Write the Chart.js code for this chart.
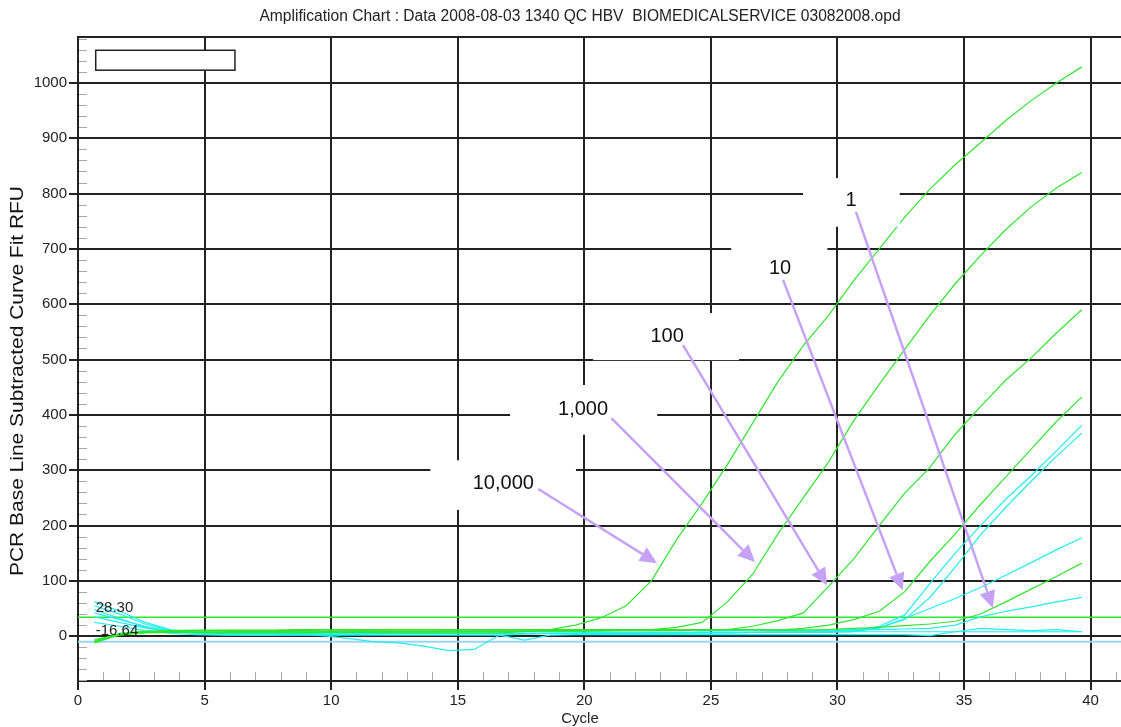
<!DOCTYPE html>
<html>
<head>
<meta charset="utf-8">
<script src="https://cdn.jsdelivr.net/npm/chart.js@4.4.1/dist/chart.umd.min.js"></script>
<style>
  html, body { margin: 0; padding: 0; background: #fff; }
  #wrap { width: 1121px; height: 727px; }
</style>
</head>
<body>
<div id="wrap"><canvas id="chart" width="1121" height="727"></canvas></div>
<script>
// cycle positions of the readings
const cycles = [0.65, 1.65, 2.65, 3.65, 4.65, 5.65, 6.65, 7.65, 8.65, 9.65,
  10.65, 11.65, 12.65, 13.65, 14.65, 15.65, 16.65, 17.65, 18.65, 19.65,
  20.65, 21.65, 22.65, 23.65, 24.65, 25.65, 26.65, 27.65, 28.65, 29.65,
  30.65, 31.65, 32.65, 33.65, 34.65, 35.65, 36.65, 37.65, 38.65, 39.65];

// standards (green)
const std10000 = [-8, 4, 7, 8, 7, 6, 6, 6, 6, 7, 7, 7, 6, 6, 6, 6, 6, 8, 12, 20,
  33, 55, 100, 175, 240, 310, 385, 460, 525, 580, 643, 700, 757, 808, 852, 892, 932, 968, 1000, 1029];
const std1000 = [-6, 3, 7, 8, 8, 8, 9, 9, 8, 8, 9, 9, 8, 8, 9, 9, 9, 9, 10, 10,
  10, 11, 12, 16, 25, 62, 112, 185, 250, 315, 390, 455, 518, 580, 637, 688, 735, 776, 810, 838];
const std100 = [-10, 2, 6, 7, 7, 7, 8, 8, 8, 8, 8, 8, 8, 8, 8, 9, 9, 9, 9, 9,
  10, 10, 10, 10, 11, 12, 18, 28, 42, 90, 140, 200, 258, 305, 365, 415, 463, 503, 548, 590];
const std10 = [-12, 3, 7, 9, 10, 10, 10, 10, 10, 11, 11, 11, 11, 11, 11, 12, 12, 12, 12, 12,
  12, 12, 12, 12, 12, 12, 12, 11, 14, 20, 30, 45, 80, 135, 185, 238, 288, 338, 388, 432];
const std1 = [-10, 5, 9, 10, 11, 11, 11, 11, 12, 12, 12, 12, 12, 12, 12, 12, 12, 12, 12, 12,
  12, 12, 12, 12, 12, 12, 12, 11, 11, 12, 14, 16, 19, 22, 27, 40, 62, 85, 108, 132];

// samples (cyan)
const smpA = [62, 45, 25, 12, 7, 5, 5, 5, 4, 4, 4, 5, 5, 5, 5, 5, 5, 5, 5, 5,
  6, 6, 6, 6, 7, 7, 7, 8, 8, 9, 10, 18, 38, 95, 150, 200, 248, 290, 335, 381];
const smpB = [55, 40, 22, 10, 6, 4, 4, 4, 4, 3, 3, 4, 4, 4, 4, 4, 4, 4, 5, 5,
  5, 5, 5, 6, 6, 6, 7, 7, 7, 8, 9, 15, 30, 70, 125, 183, 233, 280, 325, 367];
const smpC = [42, 30, 18, 9, 6, 5, 5, 4, 4, 4, 4, 4, 5, 5, 5, 5, 5, 5, 5, 6,
  6, 6, 6, 6, 7, 7, 7, 7, 8, 8, 8, 15, 32, 50, 68, 88, 110, 133, 156, 178];
const smpD = [35, 25, 15, 8, 6, 6, 6, 7, 7, 7, 7, 8, 8, 8, 8, 8, 8, 9, 9, 9,
  9, 10, 10, 10, 10, 10, 11, 11, 11, 11, 12, 12, 13, 14, 20, 35, 45, 53, 62, 70];
const smpE = [25, 18, 10, 5, 3, 2, 2, 2, 2, 2, 2, 2, 2, 2, 2, 2, 2, -7, 2, 3,
  3, 3, 3, 3, 3, 3, 3, 3, 3, 3, 3, 3, 3, 1, 8, 14, 12, 10, 12, 8];
const smpF = [48, 32, 16, 8, 5, 3, 2, 2, 3, 1, -4, -10, -12, -18, -26, -24, 2, 4, 5, 5,
  5, 5, 6, 6, 6, 6, 7, 7, 7, 7, 8, 8, 8, 8, 8, 8, 8, 8, 8, 8];

// threshold lines and their printed values
const thresholdGreen = 34;
const thresholdBlue = -10;
const thresholdTexts = ['28.30', '-16.64'];

const xTicks = [0, 5, 10, 15, 20, 25, 30, 35, 40];
const yTicks = [0, 100, 200, 300, 400, 500, 600, 700, 800, 900, 1000];
const xMin = 0, xMax = 41.2, yMin = -81, yMax = 1083;

const chartTitle = 'Amplification Chart : Data 2008-08-03 1340 QC HBV  BIOMEDICALSERVICE 03082008.opd';
const xTitle = 'Cycle';
const yTitle = 'PCR Base Line Subtracted Curve Fit RFU';

const noteLabels = ['10,000', '1,000', '100', '10', '1'];
// annotation layout in data units: box [x1, x2, yTop, yBottom], text centre, arrow from/to
const noteLayout = [
  { box: [13.92, 19.67, 318, 228], text: [16.8, 276], from: [18.18, 266], to: [22.87, 132] },
  { box: [17.07, 22.88, 454, 364], text: [19.95, 410], from: [21.07, 394], to: [26.74, 134] },
  { box: [20.35, 26.11, 584, 499], text: [23.27, 542], from: [23.9, 526], to: [29.59, 92] },
  { box: [25.8, 29.6, 707, 617], text: [27.73, 665], from: [27.85, 644], to: [32.58, 83] },
  { box: [28.64, 32.46, 828, 740], text: [30.54, 788], from: [30.73, 767], to: [36.14, 51] }
];
const legendBox = [0.7, 6.2, 1059, 1023];

const GREEN = '#2ee62e';
const CYAN = '#22eeee';
const LIGHTBLUE = '#99d6f6';
const ARROW = '#c6a2f6';
const FONT = "'Liberation Sans', Arial, sans-serif";

const toPoints = vals => vals.map((v, i) => ({ x: cycles[i], y: v }));

function series(vals, color) {
  return { data: toPoints(vals), borderColor: color, borderWidth: 1.2, pointRadius: 0, fill: false, tension: 0 };
}

const datasets = [
  series(std10000, GREEN),
  series(std1000, GREEN),
  series(std100, GREEN),
  series(std10, GREEN),
  series(std1, GREEN),
  series(smpA, CYAN),
  series(smpB, CYAN),
  series(smpC, CYAN),
  series(smpD, CYAN),
  series(smpE, CYAN),
  series(smpF, CYAN),
  { data: [{ x: xMin, y: thresholdGreen }, { x: xMax, y: thresholdGreen }], borderColor: GREEN, borderWidth: 1.5, pointRadius: 0 },
  { data: [{ x: xMin, y: thresholdBlue }, { x: xMax, y: thresholdBlue }], borderColor: LIGHTBLUE, borderWidth: 2, pointRadius: 0 }
];

function drawArrow(ctx, x1, y1, x2, y2) {
  const ang = Math.atan2(y2 - y1, x2 - x1);
  const len = 17, half = 8;
  const bx = x2 - len * Math.cos(ang), by = y2 - len * Math.sin(ang);
  ctx.beginPath();
  ctx.moveTo(x1, y1);
  ctx.lineTo(bx, by);
  ctx.stroke();
  ctx.beginPath();
  ctx.moveTo(x2, y2);
  ctx.lineTo(bx + half * Math.sin(ang), by - half * Math.cos(ang));
  ctx.lineTo(bx - half * Math.sin(ang), by + half * Math.cos(ang));
  ctx.closePath();
  ctx.fill();
}

const decor = {
  id: 'decor',
  beforeDatasetsDraw(chart) {
    const { ctx, chartArea: a, scales: { x, y } } = chart;
    ctx.save();
    // minor ticks inside the plot
    ctx.strokeStyle = '#a8a8a8';
    ctx.lineWidth = 1;
    ctx.beginPath();
    for (let c = 1; c <= 41; c++) {
      if (c % 5 === 0) continue;
      const px = Math.round(x.getPixelForValue(c)) + 0.5;
      ctx.moveTo(px, a.bottom - 1);
      ctx.lineTo(px, a.bottom - 9);
    }
    for (let v = -80; v <= 1080; v += 20) {
      if (v % 100 === 0) continue;
      const py = Math.round(y.getPixelForValue(v)) + 0.5;
      ctx.moveTo(a.left + 1, py);
      ctx.lineTo(a.left + 9, py);
    }
    ctx.stroke();
    // top frame line
    ctx.strokeStyle = '#222';
    ctx.lineWidth = 2;
    ctx.beginPath();
    ctx.moveTo(a.left, a.top);
    ctx.lineTo(a.right, a.top);
    ctx.stroke();
    ctx.restore();
  },
  afterDatasetsDraw(chart) {
    const { ctx, scales: { x, y } } = chart;
    ctx.save();
    // empty legend box
    const lx1 = x.getPixelForValue(legendBox[0]), lx2 = x.getPixelForValue(legendBox[1]);
    const ly1 = y.getPixelForValue(legendBox[2]), ly2 = y.getPixelForValue(legendBox[3]);
    ctx.fillStyle = '#fff';
    ctx.fillRect(lx1, ly1, lx2 - lx1, ly2 - ly1);
    ctx.strokeStyle = '#222';
    ctx.lineWidth = 1.5;
    ctx.strokeRect(lx1, ly1, lx2 - lx1, ly2 - ly1);

    // white label boxes
    noteLayout.forEach(n => {
      const x1 = x.getPixelForValue(n.box[0]), x2 = x.getPixelForValue(n.box[1]);
      const y1 = y.getPixelForValue(n.box[2]), y2 = y.getPixelForValue(n.box[3]);
      ctx.fillStyle = '#fff';
      ctx.fillRect(x1, y1, x2 - x1, y2 - y1);
    });
    // arrows
    ctx.strokeStyle = ARROW;
    ctx.fillStyle = ARROW;
    ctx.lineWidth = 2.5;
    noteLayout.forEach(n => {
      drawArrow(ctx, x.getPixelForValue(n.from[0]), y.getPixelForValue(n.from[1]),
        x.getPixelForValue(n.to[0]), y.getPixelForValue(n.to[1]));
    });
    // label text
    ctx.fillStyle = '#111';
    ctx.font = '20px ' + FONT;
    ctx.textAlign = 'center';
    ctx.textBaseline = 'middle';
    noteLayout.forEach((n, i) => {
      ctx.fillText(noteLabels[i], x.getPixelForValue(n.text[0]), y.getPixelForValue(n.text[1]));
    });
    // threshold values at the left
    ctx.font = '15px ' + FONT;
    ctx.textAlign = 'left';
    ctx.fillStyle = '#222';
    ctx.fillText(thresholdTexts[0], x.getPixelForValue(0.7), y.getPixelForValue(52));
    ctx.fillText(thresholdTexts[1], x.getPixelForValue(0.7), y.getPixelForValue(9));
    ctx.restore();
  },
  afterDraw(chart) {
    const { ctx } = chart;
    ctx.save();
    ctx.fillStyle = '#222';
    ctx.textAlign = 'center';
    ctx.textBaseline = 'middle';
    ctx.font = '15.6px ' + FONT;
    ctx.fillText(chartTitle, 580, 17);
    ctx.font = '15px ' + FONT;
    ctx.fillText(xTitle, 580, 719);

    // rotated y-axis title, stretched slightly along its length like the reference
    ctx.translate(18, 381);
    ctx.rotate(-Math.PI / 2);
    ctx.font = '18.5px ' + FONT;
    const w = ctx.measureText(yTitle).width;
    ctx.scale(390 / w, 1);
    ctx.fillStyle = '#111';
    ctx.fillText(yTitle, 0, 0);
    ctx.restore();
  }
};

Chart.defaults.font.family = FONT;

new Chart(document.getElementById('chart'), {
  type: 'line',
  data: { datasets },
  options: {
    responsive: false,
    devicePixelRatio: 1,
    animation: false,
    layout: { padding: { top: 37, right: 0, left: 0, bottom: 0 } },
    plugins: { legend: { display: false }, tooltip: { enabled: false } },
    scales: {
      x: {
        type: 'linear',
        min: xMin,
        max: xMax,
        afterBuildTicks: s => { s.ticks = xTicks.map(v => ({ value: v })); },
        afterFit: s => { s.height = 46; },
        grid: { color: '#222', lineWidth: 2, tickLength: 9, tickColor: '#222' },
        border: { color: '#222', width: 2 },
        ticks: { color: '#222', font: { size: 15 }, padding: 2, maxRotation: 0, callback: v => String(v) }
      },
      y: {
        type: 'linear',
        min: yMin,
        max: yMax,
        afterBuildTicks: s => { s.ticks = yTicks.map(v => ({ value: v })); },
        afterFit: s => { s.width = 78; },
        grid: { color: '#222', lineWidth: 2, tickLength: 9, tickColor: '#222' },
        border: { color: '#222', width: 2 },
        ticks: { color: '#222', font: { size: 15 }, padding: 2, callback: v => String(v) }
      }
    }
  },
  plugins: [decor]
});
</script>
</body>
</html>
